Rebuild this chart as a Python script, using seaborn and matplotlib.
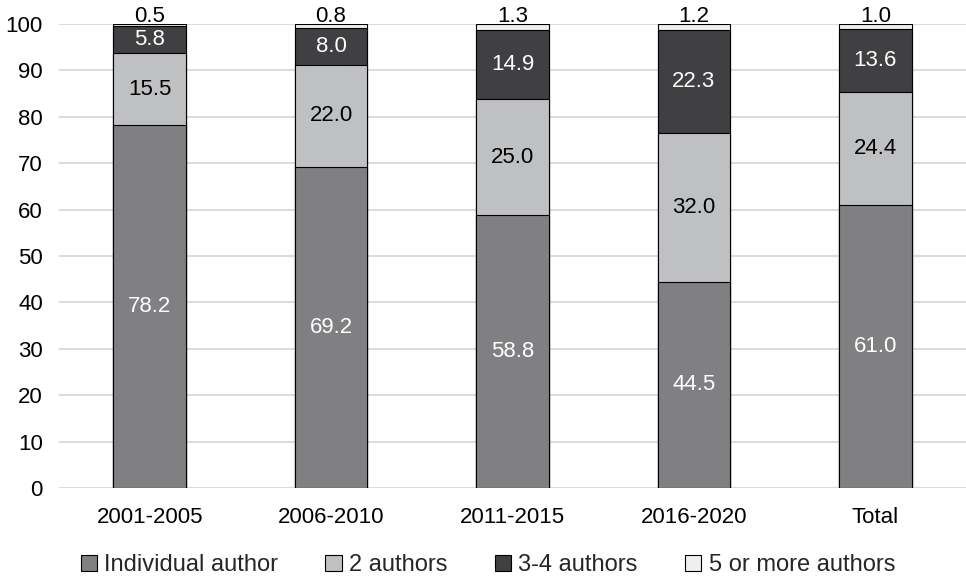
import matplotlib
matplotlib.use("Agg")
import matplotlib.pyplot as plt
from matplotlib.patches import Patch
import numpy as np
import pandas as pd
import seaborn as sns

periods = ["2001-2005", "2006-2010", "2011-2015", "2016-2020", "Total"]
individual = [78.2, 69.2, 58.8, 44.5, 61.0]
two_authors = [15.5, 22.0, 25.0, 32.0, 24.4]
three_four = [5.8, 8.0, 14.9, 22.3, 13.6]
five_plus = [0.5, 0.8, 1.3, 1.2, 1.0]

series_names = ["Individual author", "2 authors", "3-4 authors", "5 or more authors"]
series_values = [individual, two_authors, three_four, five_plus]
series_colors = ["#808083", "#bfc0c2", "#404042", "#efeff0"]
label_colors = ["white", "black", "white", "black"]

FS = 16

sns.set_theme(style="white")
plt.rcParams["font.family"] = ["Liberation Sans", "DejaVu Sans"]
plt.rcParams["font.size"] = FS

fig = plt.figure(figsize=(9.66, 5.78), dpi=100)
ax = fig.add_axes([0.061, 0.1557, 0.939, 0.8028])

# cumulative tops for stacking: draw the tallest first, smaller on top
vals = np.array(series_values)
tops = np.cumsum(vals, axis=0)
bottoms = tops - vals

for i in reversed(range(len(series_names))):
    df = pd.DataFrame({"period": periods, "top": tops[i]})
    sns.barplot(data=df, x="period", y="top", color=series_colors[i],
                saturation=1, width=0.4, edgecolor="black", linewidth=0.8,
                ax=ax, zorder=3)

# value labels
for i in range(len(series_names)):
    for j, p in enumerate(periods):
        v = vals[i][j]
        if i == len(series_names) - 1:
            ax.text(j, tops[i][j] - 0.6, f"{v:.1f}", ha="center", va="bottom",
                    color=label_colors[i], fontsize=FS, zorder=5)
        else:
            ax.text(j, bottoms[i][j] + v / 2, f"{v:.1f}", ha="center",
                    va="center", color=label_colors[i], fontsize=FS,
                    zorder=5)

ax.set_ylim(0, 100)
ax.set_xlim(-0.5, 4.5)
ax.set_yticks(range(0, 101, 10))
ax.yaxis.grid(True, color="#d9d9d9", linewidth=1.3, zorder=0)
ax.set_axisbelow(True)
for s in ax.spines.values():
    s.set_visible(False)
ax.tick_params(axis="y", length=0, pad=11.5, labelsize=FS, labelcolor="black")
ax.tick_params(axis="x", length=0, pad=14, labelsize=FS, labelcolor="black")
ax.set_xlabel("")
ax.set_ylabel("")

handles = [Patch(facecolor=c, edgecolor="black", linewidth=0.8) for c in series_colors]
fig.legend(handles, series_names, loc="center", bbox_to_anchor=(0.505, 0.022),
           ncol=4, frameon=False, fontsize=17, handlelength=0.7,
           handleheight=0.72, handletextpad=0.3, columnspacing=2.0)

fig.savefig("out.png", dpi=100)
